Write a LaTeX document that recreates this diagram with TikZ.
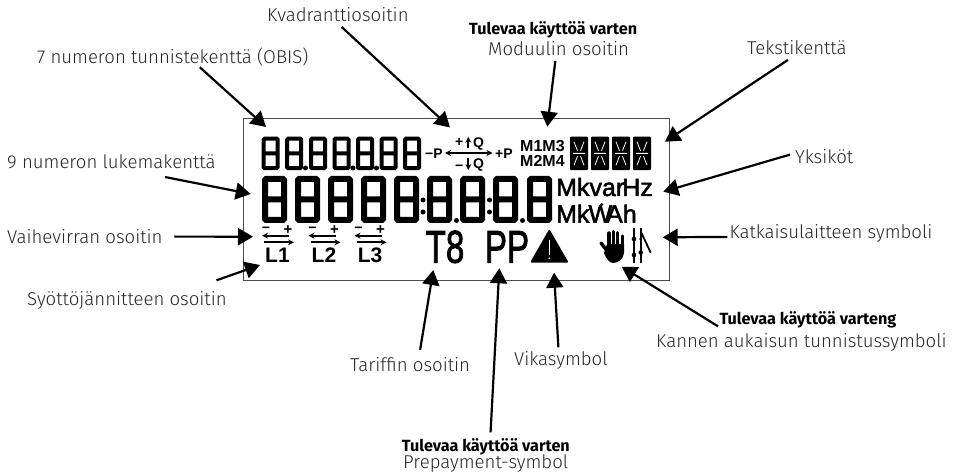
\documentclass[tikz,border=0pt]{standalone}
\usepackage{fontspec}
\setmainfont{Fira Sans Light}[BoldFont={Fira Sans Bold}]
\newfontfamily\lcdfont{Liberation Sans}
\newfontfamily\unitfont[FakeBold=2]{Liberation Sans}
\usetikzlibrary{arrows.meta}

\tikzset{
    labeltext/.style={inner sep=0pt,anchor=base west,text=black!85,font=\fontsize{18.6}{20}\selectfont},
    boldtext/.style={inner sep=0pt,anchor=base west,text=black,font=\fontsize{16.2}{18}\selectfont\bfseries},
    lcdtext/.style={inner sep=0pt,anchor=base west,font=\lcdfont\bfseries\fontsize{14}{16}\selectfont},
    unittext/.style={inner sep=0pt,anchor=base west,font=\unitfont\fontsize{25}{28}\selectfont},
    pics/lcd/.style n args={3}{code={
        \draw[line width=#3pt,rounded corners=1pt]
            (#3/2,#3/2) rectangle (#1-#3/2,#2-#3/2)
            (#3/2,#2/2) -- (#1-#3/2,#2/2);
    }},
    pics/alpha/.style={code={
        \fill[rounded corners=1pt] (0,0) rectangle (18,33.5);
        \draw[white,line width=.8pt]
            (4,5) -- (7.5,14) (14,5) -- (10.5,14)
            (4,28.5) -- (7.5,19.5) (14,28.5) -- (10.5,19.5)
            (3,16.7) -- (15,16.7);
    }},
}

\begin{document}
\begin{tikzpicture}[x=1pt,y=-1pt]
\useasboundingbox (0,0) rectangle (959,473);

% display
\draw[draw=black!70,line width=1pt] (243,118.5) rectangle (669,280.5);

\foreach \x in {261.7,285.2,309,332.5,356,379.5,403}
    \pic at (\x,136.7) {lcd={18}{33.5}{4}};
\foreach \x in {262,295,328,361,394,427,460,493,527}
    \pic at (\x,176) {lcd={25}{47}{6}};
\foreach \x/\y in {305.5/168,353/168,376.5/168,456.5/220.5,522.5/220.5,
                   423/200,423/212,489.5/200,489.5/212}
    \fill (\x,\y) circle (2.5pt);
\foreach \x in {570,591,612,633}
    \pic at (\x,136.7) {alpha};

% quadrants
\node[lcdtext] (minusP) at (425,158.3) {−P};
\node[lcdtext] (plusP) at (495,158.3) {+P};
\node[lcdtext] (plusQ) at (455,147) {+};
\node[lcdtext] (minusQ) at (455,170.5) {−};
\node[lcdtext] (upQ) at (473,148) {Q};
\node[lcdtext] (downQ) at (473,169) {Q};
\begin{scope}[>={Stealth[length=6pt,width=6pt]},line width=2pt]
    \draw [->] (469,153) -- (445,153);
    \draw [->] (469,153) -- (492.5,153);
    \draw [->] (468.3,148.5) -- (468.3,136.7);
    \draw [->] (468.3,158) -- (468.3,170);
\end{scope}

\node[lcdtext,font=\lcdfont\bfseries\fontsize{16}{18}\selectfont] (modTop) at (520,151.7) {M1M3};
\node[lcdtext,font=\lcdfont\bfseries\fontsize{16}{18}\selectfont] (modBot) at (520,166.7) {M2M4};

\node[unittext] (unitTop) at (556,196) {Mkvar\kern-2pt Hz};
\node[unittext] (unitBot) at (556,222.7) {Mk\kern-1pt W\kern-6pt Ah};
\fill (601.7,204.5) circle (1.7pt);

% phases
\foreach \n/\x in {1/262,2/308.5,3/354.5} {
    \node[lcdtext,anchor=center,font=\lcdfont\bfseries\fontsize{14}{14}\selectfont] (neg\n) at (\x+4,230) {−};
    \node[lcdtext,anchor=center,font=\lcdfont\bfseries\fontsize{15}{14}\selectfont] (pos\n) at (\x+26,230.5) {+};
    \node[lcdtext,anchor=base,font=\lcdfont\bfseries\fontsize{21}{20}\selectfont] (phase\n) at (\x+15.5,262.7) {L\n};
    \begin{scope}[>={Stealth[length=6pt,width=6pt]},line width=2pt]
        \draw [->] (\x+27,235.7) -- (\x,235.7);
        \draw [->] (\x+2,242.3) -- (\x+32,242.3);
    \end{scope}
}

\node[unittext,anchor=base,font=\unitfont\fontsize{46}{48}\selectfont,xscale=.72] (tariff) at (445,262.7) {T8};
\node[unittext,anchor=base,font=\unitfont\fontsize{46}{48}\selectfont,xscale=.72] (prepay) at (507,262.7) {PP};

% warning
\draw[fill=black,line width=2pt,line join=round] (549.3,231) -- (567,261.7) -- (531.7,261.7) -- cycle;
\draw[white,line width=1pt] (549.3,240) -- (549.3,255);
\fill[white] (549.3,258.2) circle (1pt);

% hand
\begin{scope}[line cap=round,line width=3.4pt]
    \draw (609,233) -- (609,248);
    \draw (613.3,231.5) -- (613.3,248);
    \draw (617.7,232.5) -- (617.7,248);
    \draw (622.3,236) -- (622.3,250);
    \draw (601,243) -- (608,252);
\end{scope}
\fill (607,244) -- (624,244) -- (624,253) .. controls (623.5,259) and (618,263) .. (613,263)
    .. controls (609,263) and (606,258) .. (604,253) -- cycle;

% switch
\begin{scope}[line width=1.8pt]
    \draw (634,228.5) -- (634,262.7);
    \draw (640.7,228.5) -- (640.7,262.7);
    \draw (641.5,233) -- (650.7,252.7);
\end{scope}
\fill (634,239) circle (2.3pt) (640.7,252.5) circle (2.3pt) (634,255) circle (2.3pt) (640.7,239) circle (1.5pt);

% labels
\begin{scope}[every node/.style={labeltext}]
    \node (obis) at (37,63.5) {7 numeron tunnistekenttä (OBIS)};
    \node (quad) at (267,21.5) {Kvadranttiosoitin};
    \node (modul) at (488,55.5) {Moduulin osoitin};
    \node (teksti) at (747,54.5) {Tekstikenttä};
    \node (yksi) at (795,163.5) {Yksiköt};
    \node (lukema) at (7,168.5) {9 numeron lukemakenttä};
    \node (vaihe) at (7,243.5) {Vaihevirran osoitin};
    \node (katk) at (729.3,238.5) {Katkaisulaitteen symboli};
    \node (syotto) at (27,305.5) {Syöttöjännitteen osoitin};
    \node (tarif) at (350,371.5) {Tariffin osoitin};
    \node (vika) at (514,365.5) {Vikasymbol};
    \node (kansi) at (656,347.5) {Kannen aukaisun tunnistussymboli};
    \node (prepaym) at (403,468.5) {Prepayment-symbol};
\end{scope}
\begin{scope}[every node/.style={boldtext}]
    \node (modulB) at (469,35) {Tulevaa käyttöä varten};
    \node (kansiB) at (719.3,324) {Tulevaa käyttöä varteng};
    \node (prepayB) at (401.7,451.5) {Tulevaa käyttöä varten};
\end{scope}

\coordinate (obisT) at (266,127);
\coordinate (quadT) at (450,127.5);
\coordinate (modulT) at (547.3,126.7);
\coordinate (tekstiT) at (665,141.7);
\coordinate (yksiT) at (663.3,191.7);
\coordinate (lukemaT) at (250.7,194);
\coordinate (vaiheT) at (253,236.7);
\coordinate (katkT) at (662.7,237.3);
\coordinate (syottoT) at (260,265);
\coordinate (tarifT) at (433.3,270);
\coordinate (vikaT) at (554,272.7);
\coordinate (prepayT) at (499.3,268.3);
\coordinate (kansiT) at (621.7,266.7);

\begin{scope}[>={Triangle[length=15pt,width=17pt,black]},
              every edge/.style={draw=black,line width=2.2pt}]
    \path [->] ([xshift=27pt,yshift=-1pt]obis.south) edge (obisT);
    \path [->] ([xshift=3.7pt,yshift=-5pt]quad.south) edge (quadT);
    \path [->] ([xshift=-3.3pt,yshift=-5pt]modul.south) edge (modulT);
    \path [->] ([xshift=-9pt,yshift=-5pt]teksti.south) edge (tekstiT);
    \path [->] ([xshift=-5pt,yshift=2pt]yksi.west) edge (yksiT);
    \path [->] ([xshift=53.7pt,yshift=-8pt]lukema.south) edge (lukemaT);
    \path [->] ([xshift=11.7pt]vaihe.east) edge (vaiheT);
    \path [->] ([xshift=-2pt,yshift=-3.5pt]katk.west) edge (katkT);
    \path [->] ([xshift=89.5pt,yshift=11pt]syotto.north) edge (syottoT);
    \path [->] ([xshift=10pt,yshift=7.5pt]tarif.north) edge (tarifT);
    \path [->] ([xshift=-2.5pt,yshift=4pt]vika.north) edge (vikaT);
    \path [->] ([xshift=4.7pt,yshift=6pt]prepayB.north) edge (prepayT);
    \path [->] ([xshift=-1.3pt,yshift=-7pt]kansiB.west) edge (kansiT);
\end{scope}
\end{tikzpicture}
\end{document}
